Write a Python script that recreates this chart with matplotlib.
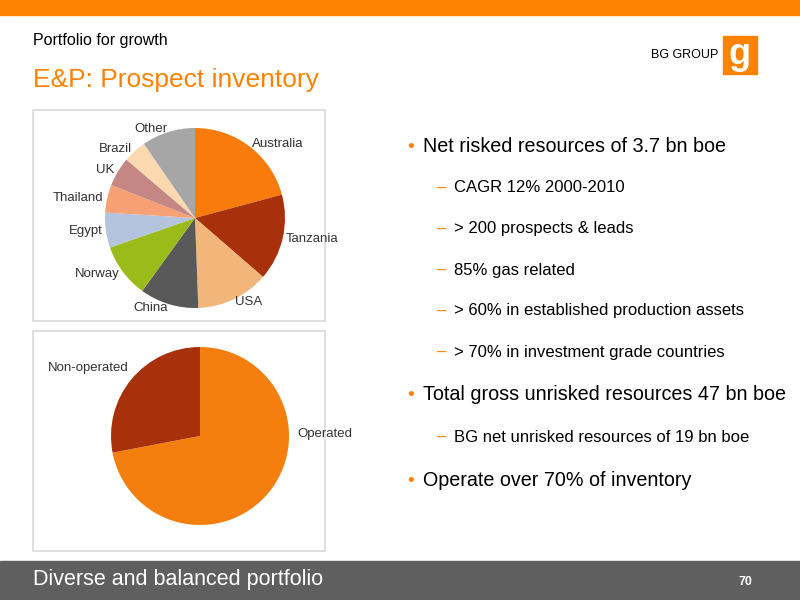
import matplotlib
matplotlib.use("Agg")
import matplotlib.pyplot as plt
from matplotlib.patches import Rectangle

plt.rcParams['font.family'] = ['Liberation Sans', 'DejaVu Sans']

countries = ["Australia", "Tanzania", "USA", "China", "Norway", "Egypt", "Thailand", "UK", "Brazil", "Other"]
country_share = [75, 56, 47, 38, 35, 22.6, 18, 19, 15, 34.6]
country_colors = ["#F97B0B", "#A8300A", "#F2B57A", "#595959", "#9BBB1A", "#B4C3DE", "#F7A074", "#C48784", "#FBD8B0", "#A6A6A6"]

ops = ["Operated", "Non-operated"]
ops_share = [72, 28]
ops_colors = ["#F57F0E", "#A8300A"]

bullets = [
    (0, "Net risked resources of 3.7 bn boe"),
    (1, "CAGR 12% 2000-2010"),
    (1, "> 200 prospects & leads"),
    (1, "85% gas related"),
    (1, "> 60% in established production assets"),
    (1, "> 70% in investment grade countries"),
    (0, "Total gross unrisked resources 47 bn boe"),
    (1, "BG net unrisked resources of 19 bn boe"),
    (0, "Operate over 70% of inventory"),
]
bullet_y = [147, 188, 229, 270, 311, 352, 395, 437, 481]

W, H = 800, 600
fig = plt.figure(figsize=(8, 6), dpi=100)
bg = fig.add_axes([0, 0, 1, 1])
bg.set_xlim(0, W); bg.set_ylim(H, 0); bg.axis('off')

ORANGE = "#FF8200"
bg.add_patch(Rectangle((0, 0), W, 15, color=ORANGE))
bg.add_patch(Rectangle((0, 561), W, 39, color="#5F5F5F"))
bg.text(33, 40, "Portfolio for growth", fontsize=11.5, va='center')
bg.text(33, 80, "E&P: Prospect inventory", fontsize=19, color=ORANGE, va='center')
bg.text(718, 55, "BG GROUP", fontsize=9, ha='right', va='center')
bg.add_patch(Rectangle((723, 36), 34, 38, color=ORANGE))
bg.text(740, 55, "g", fontsize=26, color='white', ha='center', va='center', fontweight='bold')
bg.text(33, 580, "Diverse and balanced portfolio", fontsize=15.5, color='white', va='center')
bg.text(752, 582, "70", fontsize=9, color='white', va='center', ha='right', fontweight='bold')

bg.add_patch(Rectangle((33, 110), 292, 211, fill=False, ec="#D9D9D9", lw=1.2))
bg.add_patch(Rectangle((33, 331), 292, 220, fill=False, ec="#D9D9D9", lw=1.2))

for (lvl, txt), y in zip(bullets, bullet_y):
    if lvl == 0:
        bg.text(407, y, "•", color=ORANGE, fontsize=14, va='center')
        bg.text(423, y, txt, fontsize=14.2, va='center')
    else:
        bg.text(437, y, "–", color=ORANGE, fontsize=12, va='center')
        bg.text(454, y, txt, fontsize=12, va='center')

def pix_axes(cx, cy, r):
    ax = fig.add_axes([(cx - r) / W, 1 - (cy + r) / H, 2 * r / W, 2 * r / H])
    return ax

ax1 = pix_axes(195, 218, 90)
ax1.pie(country_share, labels=countries, colors=country_colors, startangle=90, counterclock=False,
        labeldistance=1.04, textprops={'fontsize': 9.5, 'color': '#333333'})
ax1.set_xlim(-1, 1); ax1.set_ylim(-1, 1)

ax2 = pix_axes(200, 436, 89)
ax2.pie(ops_share, colors=ops_colors, startangle=90, counterclock=False)
ax2.set_xlim(-1, 1); ax2.set_ylim(-1, 1)
bg.text(352, 434, "Operated", fontsize=9.5, ha='right', va='center', color='#333333')
bg.text(48, 368, "Non-operated", fontsize=9.5, ha='left', va='center', color='#333333')

fig.savefig("out.png", dpi=100)
